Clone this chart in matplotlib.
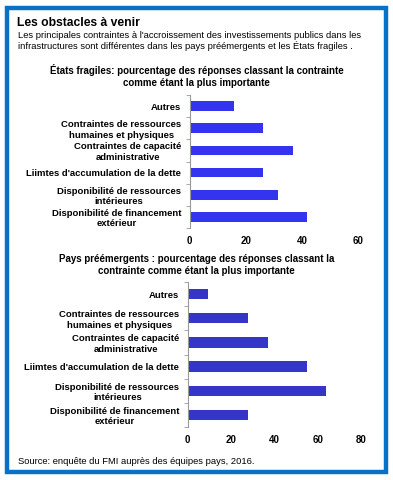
import numpy as np
import matplotlib.pyplot as plt
from matplotlib.patches import Rectangle

plt.rcParams['font.family'] = ['Liberation Sans', 'DejaVu Sans']

categories = ['Autres',
              'Contraintes de ressources\nhumaines et physiques',
              'Contraintes de capacité\nadministrative',
              "Liimtes d'accumulation de la dette",
              'Disponibilité de ressources\nintérieures',
              'Disponibilité de financement\nextérieur']
fragiles = [16, 26, 37, 26, 31.5, 42]
preemergents = [9.5, 28, 37, 55, 64, 28]

fig = plt.figure(figsize=(3.93, 4.80), dpi=100)

# blue frame
fig.patches.append(Rectangle((7 / 393, 8 / 480), 379 / 393, 464 / 480,
                             transform=fig.transFigure, fill=False,
                             edgecolor='#0a72c6', linewidth=3.2))

fig.text(17 / 393, 1 - 23 / 480, 'Les obstacles à venir', fontsize=8.7,
         fontweight='bold', va='center')
fig.text(18 / 393, 1 - 35 / 480,
         "Les principales contraintes à l'accroissement des investissements publics dans les",
         fontsize=6.75, va='center')
fig.text(18 / 393, 1 - 46 / 480,
         "infrastructures sont différentes dans les pays préémergents et les États fragiles .",
         fontsize=6.75, va='center')


def panel(rect, values, color, xmax, title, title_y):
    ax = fig.add_axes(rect)
    y = np.arange(len(categories))
    ax.barh(y, values, height=0.43, color=color)
    ax.set_ylim(len(categories) - 0.5, -0.5)
    ax.set_xlim(0, xmax)
    ax.set_xticks(np.arange(0, xmax + 1, 20))
    ax.set_yticks(y)
    ax.set_yticklabels(categories, fontsize=6.8, fontweight='bold',
                       linespacing=1.2, multialignment='center')
    ax.set_yticks(np.arange(len(categories) + 1) - 0.5, minor=True)
    ax.tick_params(axis='y', which='major', length=0, pad=6)
    ax.tick_params(axis='y', which='minor', length=3, color='#999999')
    ax.tick_params(axis='x', length=0, labelsize=7, pad=6)
    for lab in ax.get_xticklabels():
        lab.set_fontweight('bold')
    for s in ['top', 'right', 'bottom']:
        ax.spines[s].set_visible(False)
    ax.spines['left'].set_color('#999999')
    fig.text(0.5, 1 - title_y / 480, title, fontsize=7, fontweight='bold',
             ha='center', va='center', linespacing=1.25)
    return ax


ax1 = panel([189.5 / 393, 1 - 228 / 480, 168.5 / 393, 133 / 480], fragiles,
            '#3434f0', 60,
            'États fragiles: pourcentage des réponses classant la contrainte\ncomme étant la plus importante',
            76)
ax2 = panel([187.7 / 393, 1 - 427 / 480, 173.3 / 393, 145 / 480], preemergents,
            '#3535c8', 80,
            'Pays préémergents : pourcentage des réponses classant la\ncontrainte comme étant la plus importante',
            265)

fig.text(18 / 393, 1 - 462 / 480, 'Source: enquête du FMI auprès des équipes pays, 2016.',
         fontsize=6.75, va='center')

plt.savefig('out.png', dpi=100)
